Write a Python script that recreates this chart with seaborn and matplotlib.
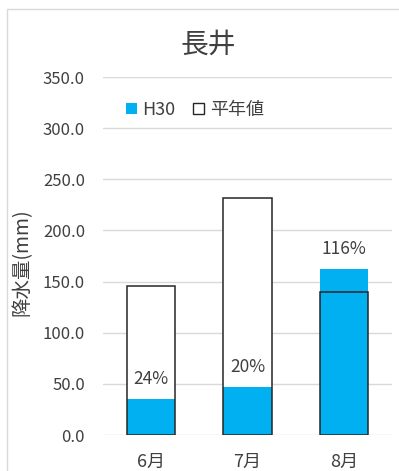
import matplotlib
matplotlib.use("Agg")
import matplotlib.pyplot as plt
from matplotlib.patches import Patch, Rectangle
import seaborn as sns
import pandas as pd

# Monthly precipitation at 長井 (mm)
months = ["6月", "7月", "8月"]
h30 = [35.0, 47.0, 162.5]
normal = [146.0, 232.0, 140.0]
ratio_labels = ["24%", "20%", "116%"]
yticks = [0, 50, 100, 150, 200, 250, 300, 350]

sns.set_theme(style="white")
plt.rcParams["font.family"] = ["Noto Sans CJK JP", "DejaVu Sans"]

BLUE = "#00B0F0"
TEXT = "#404040"
GRID = "#D9D9D9"

df = pd.DataFrame({"month": months, "h30": h30, "normal": normal})

fig = plt.figure(figsize=(3.99, 4.71), dpi=100)
ax = fig.add_axes([103 / 399, 1 - 435 / 471, 289 / 399, 358 / 471])

# normal values: white-filled bars behind
sns.barplot(data=df, x="month", y="normal", color="white", edgecolor="none",
            width=0.5, saturation=1, ax=ax, zorder=2)
# H30 values on top
sns.barplot(data=df, x="month", y="h30", color=BLUE, edgecolor="none",
            width=0.5, saturation=1, ax=ax, zorder=3)
# outlines of normal bars drawn over everything
sns.barplot(data=df, x="month", y="normal", fill=False, edgecolor="#262626",
            linewidth=1.1, width=0.5, ax=ax, zorder=4)

ax.set_ylim(0, 350)
ax.set_xlim(-0.5, 2.5)
ax.set_yticks(yticks)
ax.set_yticklabels([f"{v:.1f}" for v in yticks], fontsize=12, color=TEXT)
ax.tick_params(axis="x", labelsize=13, colors=TEXT, pad=13, length=0)
ax.tick_params(axis="y", pad=13, length=0)
ax.set_xlabel("")
ax.set_ylabel("")
for s in ax.spines.values():
    s.set_visible(False)
ax.yaxis.grid(True, color=GRID, linewidth=1.0, zorder=0)
ax.set_axisbelow(True)

for i, (v, lab) in enumerate(zip(h30, ratio_labels)):
    ax.annotate(lab, (i, v), xytext=(0, 8), textcoords="offset points",
                ha="center", va="bottom", fontsize=12.5, color=TEXT, zorder=5)

fig.text(22 / 399, 1 - 262 / 471, "降水量(mm)", rotation=90, ha="center",
         va="center", fontsize=14, color=TEXT)
fig.text(208 / 399, 1 - 45 / 471, "長井", ha="center", va="center",
         fontsize=20, color=TEXT)

handles = [Patch(facecolor=BLUE, edgecolor="none"),
           Patch(facecolor="white", edgecolor="#262626", linewidth=1.0)]
fig.legend(handles, ["H30", "平年値"], loc="center left",
           bbox_to_anchor=(126 / 399, 1 - 110 / 471), ncol=2, frameon=False,
           fontsize=13, handlelength=0.6, handleheight=0.6,
           handletextpad=0.3, columnspacing=1.0, borderpad=0,
           borderaxespad=0, labelcolor=TEXT)

# chart area frame
fig.patches.append(Rectangle((7 / 399, -0.1), 1.2, 1 - 9 / 471 + 0.1,
                             transform=fig.transFigure, fill=False,
                             edgecolor=GRID, linewidth=1.0))

fig.savefig("out.png", dpi=100)
